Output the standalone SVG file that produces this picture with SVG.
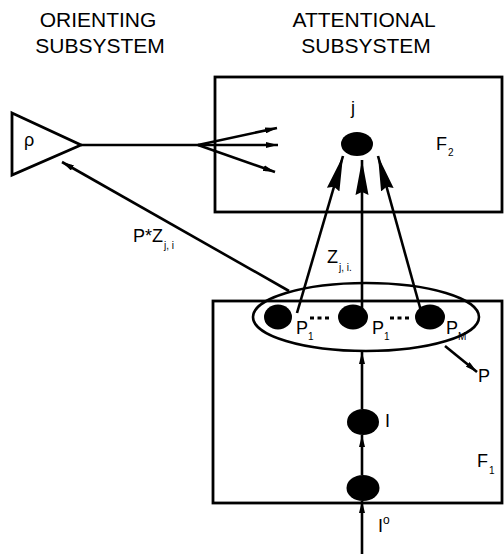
<svg xmlns="http://www.w3.org/2000/svg" width="504" height="554" viewBox="0 0 504 554">
<style>
text{font-family:"Liberation Sans",Arial,sans-serif;fill:#000}
.t{font-size:21px;text-anchor:middle}
.l{font-size:18px}
.s{font-size:10px}
.box{fill:none;stroke:#000;stroke-width:2.8}
.ln{fill:none;stroke:#000;stroke-width:2.6}
.nd{fill:#000}
</style>
<defs>
<marker id="big" viewBox="0 0 35 14" refX="35" refY="7" markerWidth="35" markerHeight="14" markerUnits="userSpaceOnUse" orient="auto">
<path d="M0,0.5 L35,7 L0,13.5 L3,7 Z" fill="#000"/>
</marker>
<marker id="sm" viewBox="0 0 12 6" refX="12" refY="3" markerWidth="12" markerHeight="6" markerUnits="userSpaceOnUse" orient="auto">
<path d="M0,0 L12,3 L0,6 Z" fill="#000"/>
</marker>
</defs>
<g id="titles">
<text class="t" x="98" y="27">ORIENTING</text>
<text class="t" x="100" y="53">SUBSYSTEM</text>
<text class="t" x="364" y="27">ATTENTIONAL</text>
<text class="t" x="366" y="53">SUBSYSTEM</text>
</g>
<g id="F2">
<rect class="box" x="215" y="77" width="287" height="135"/>
<text class="l" x="436" y="150">F<tspan class="s" dx="1" dy="6">2</tspan></text>
</g>
<g id="F1">
<rect class="box" x="213" y="301" width="289" height="202"/>
<text class="l" x="477" y="467">F<tspan class="s" dx="1" dy="7">1</tspan></text>
</g>
<g id="rho">
<polygon points="12,113 81,145 12,175" fill="#fff" stroke="#000" stroke-width="2.8"/>
<text class="l" x="24" y="146">ρ</text>
</g>
<g id="j">
<ellipse class="nd" cx="357" cy="144" rx="16" ry="12"/>
<text class="l" x="351" y="114">j</text>
</g>
<g id="P">
<ellipse cx="366" cy="317" rx="113" ry="34" fill="none" stroke="#000" stroke-width="2.6"/>
<text class="l" x="478" y="382">P</text>
</g>
<g id="p1a">
<ellipse class="nd" cx="278" cy="317" rx="14" ry="12.5"/>
<text class="l" x="296" y="334">P<tspan class="s" dx="0" dy="6">1</tspan></text>
</g>
<g id="p1b">
<ellipse class="nd" cx="353" cy="317" rx="15" ry="12.5"/>
<text class="l" x="372" y="334">P<tspan class="s" dx="0" dy="6">1</tspan></text>
</g>
<g id="pm">
<ellipse class="nd" cx="430" cy="317" rx="15" ry="12.5"/>
<text class="l" x="446" y="334">P<tspan class="s" dx="0" dy="6">M</tspan></text>
</g>
<g id="dots">
<line x1="310" y1="318" x2="329" y2="318" stroke="#000" stroke-width="3" stroke-dasharray="4,3.5"/>
<line x1="390" y1="318" x2="409" y2="318" stroke="#000" stroke-width="3" stroke-dasharray="4,3.5"/>
</g>
<g id="I">
<ellipse class="nd" cx="363" cy="422" rx="16" ry="13"/>
<text class="l" x="385" y="427">I</text>
</g>
<g id="I0">
<ellipse class="nd" cx="363" cy="488" rx="16.5" ry="13"/>
<text class="l" x="378" y="532">I<tspan font-size="12" dy="-8">o</tspan></text>
</g>
<g id="connectors">
<polyline class="ln" points="81,145 198,145"/>
<line class="ln" x1="198" y1="145" x2="277" y2="128" marker-end="url(#sm)"/>
<line class="ln" x1="198" y1="145" x2="278" y2="145" marker-end="url(#sm)"/>
<line class="ln" x1="198" y1="145" x2="275" y2="172" marker-end="url(#sm)"/>
<line class="ln" x1="297" y1="313" x2="343" y2="156" marker-end="url(#big)"/>
<line class="ln" x1="362" y1="318" x2="362" y2="160" marker-end="url(#big)"/>
<line class="ln" x1="421" y1="311" x2="378" y2="156" marker-end="url(#big)"/>
<line class="ln" x1="289" y1="291" x2="62" y2="162" marker-end="url(#sm)"/>
<line class="ln" x1="445" y1="346" x2="477" y2="372" marker-end="url(#sm)"/>
<line class="ln" x1="362" y1="554" x2="362" y2="501" marker-end="url(#sm)"/>
<line class="ln" x1="362" y1="475" x2="362" y2="435" marker-end="url(#sm)"/>
<line class="ln" x1="362" y1="409" x2="362" y2="352" marker-end="url(#sm)"/>
<text class="l" x="133" y="242">P*Z<tspan class="s" dx="1" dy="7">j, i</tspan></text>
<text class="l" x="327" y="263">Z<tspan class="s" dx="1" dy="8">j, i.</tspan></text>
</g>
</svg>
